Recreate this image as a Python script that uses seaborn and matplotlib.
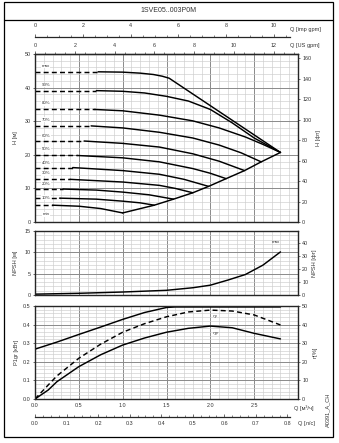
import matplotlib
matplotlib.use("Agg")
import matplotlib.pyplot as plt
import seaborn as sns
import pandas as pd
from matplotlib.ticker import MultipleLocator, FixedLocator
from matplotlib.patches import Rectangle
from matplotlib.lines import Line2D

sns.set_style("ticks")
plt.rcParams["font.family"] = ["Liberation Sans", "DejaVu Sans"]

# ---------------- data ----------------
title = "1SVE05..003P0M"
speed_labels = ["max", "90%", "80%", "70%", "60%", "50%", "40%", "30%", "20%", "10%", "min"]
shutoff_h = [44.7, 39.1, 33.5, 28.6, 24.1, 19.8, 16.2, 12.7, 9.8, 7.1, 5.0]
dash_end_q = [0.72, 0.70, 0.68, 0.64, 0.56, 0.48, 0.43, 0.40, 0.32, 0.28, 0.20]
label_h = [46.4, 40.8, 35.3, 30.4, 25.6, 21.6, 17.5, 14.5, 11.2, 7.2, 2.3]

max_q = [0.72, 1.0, 1.2, 1.35, 1.45, 1.53, 2.80]
max_h = [44.7, 44.6, 44.3, 43.9, 43.4, 42.8, 20.7]
p90_q = [0.70, 1.0, 1.25, 1.5, 1.75, 2.0, 2.25, 2.5, 2.80]
p90_h = [39.1, 38.9, 38.4, 37.4, 36.0, 33.5, 29.5, 25.0, 20.7]
p80_q = [0.68, 1.0, 1.42, 1.8, 2.1, 2.4, 2.6, 2.80]
p80_h = [33.5, 33.1, 31.8, 30.1, 28.0, 25.3, 23.1, 20.7]
p70_q = [0.64, 1.0, 1.42, 1.8, 2.1, 2.35, 2.58]
p70_h = [28.6, 28.0, 26.7, 25.0, 22.9, 20.6, 17.9]
p60_q = [0.56, 1.0, 1.42, 1.8, 2.1, 2.39]
p60_h = [24.1, 23.4, 22.3, 20.3, 18.1, 15.3]
p50_q = [0.48, 1.0, 1.42, 1.8, 2.0, 2.18]
p50_h = [19.8, 19.1, 17.9, 15.9, 14.5, 12.9]
p40_q = [0.43, 1.0, 1.42, 1.7, 1.98]
p40_h = [16.2, 15.3, 14.2, 12.7, 10.6]
p30_q = [0.40, 1.0, 1.42, 1.6, 1.80]
p30_h = [12.7, 11.9, 10.9, 10.0, 8.7]
p20_q = [0.32, 0.7, 1.0, 1.3, 1.58]
p20_h = [9.8, 9.5, 8.9, 8.1, 6.8]
p10_q = [0.28, 0.7, 1.0, 1.2, 1.36]
p10_h = [7.1, 6.8, 6.2, 5.7, 5.0]
min_q = [0.20, 0.5, 0.75, 1.0]
min_h = [5.0, 4.7, 4.0, 2.7]
env_q = [1.0, 1.36, 1.58, 1.80, 1.98, 2.18, 2.39, 2.58, 2.80]
env_h = [2.7, 5.0, 6.8, 8.7, 10.6, 12.9, 15.3, 17.9, 20.7]

npsh_q = [0, 0.5, 1.0, 1.5, 1.8, 2.0, 2.2, 2.4, 2.6, 2.8]
npsh_h = [0.2, 0.4, 0.7, 1.1, 1.7, 2.3, 3.5, 4.8, 7.0, 10.1]

p1_q = [0, 0.25, 0.5, 0.75, 1.0, 1.25, 1.5, 1.6, 2.8]
p1_kw = [0.268, 0.306, 0.347, 0.387, 0.428, 0.465, 0.492, 0.495, 0.495]
eta_q = [0, 0.15, 0.25, 0.5, 0.75, 1.0, 1.25, 1.5, 1.75, 2.0, 2.25, 2.5, 2.8]
eta_p = [0, 7.5, 12.4, 21.9, 29.5, 35.9, 40.5, 44.2, 46.8, 47.8, 47.3, 45.2, 39.8]
eta_gr = [0, 4.8, 9.3, 17.4, 23.8, 29.0, 32.8, 35.9, 38.0, 39.2, 38.3, 35.3, 32.3]

q_ticks = [0.0, 0.5, 1.0, 1.5, 2.0, 2.5]
us_ticks = [0, 2, 4, 6, 8, 10, 12]
imp_ticks = [0, 2, 4, 6, 8, 10]
ls_ticks = [0.0, 0.1, 0.2, 0.3, 0.4, 0.5, 0.6, 0.7, 0.8]

# ---------------- layout ----------------
W, H = 339, 443
fig = plt.figure(figsize=(W / 100, H / 100), dpi=100)
TXT = "#333333"
FS = 3.9
LFS = 4.1
SFS = 3.2


def fx(p):
    return p / W


def fy(p):
    return 1 - p / H


def add_ax(x0, x1, ytop, ybot):
    return fig.add_axes([fx(x0), fy(ybot), fx(x1) - fx(x0), fy(ytop) - fy(ybot)])


QMAX = 3.0
axH = add_ax(35, 298, 54, 222)
axN = add_ax(35, 298, 231, 295)
axP = add_ax(35, 298, 306, 399)


def style_grid(ax, ymaj, ymin):
    ax.set_xlim(0, QMAX)
    ax.xaxis.set_major_locator(MultipleLocator(0.5))
    ax.xaxis.set_minor_locator(MultipleLocator(0.1))
    ax.yaxis.set_major_locator(MultipleLocator(ymaj))
    ax.yaxis.set_minor_locator(MultipleLocator(ymin))
    ax.grid(which="major", color="#8a8a8a", lw=0.7)
    ax.grid(which="minor", color="#cccccc", lw=0.45)
    ax.set_axisbelow(True)
    for s in ax.spines.values():
        s.set_linewidth(0.9)
        s.set_color("black")
    ax.tick_params(which="major", length=1.5, width=0.5, labelsize=FS, colors=TXT, pad=1.5)
    ax.tick_params(which="minor", length=0)


style_grid(axH, 10, 2)
axH.set_ylim(0, 50)
axH.tick_params(axis="x", labelbottom=False, length=0)
style_grid(axN, 5, 1)
axN.set_ylim(0, 15)
axN.tick_params(axis="x", labelbottom=False, length=0)
style_grid(axP, 0.1, 0.02)
axP.set_ylim(0, 0.5)
axP.set_xticks(q_ticks)
axP.set_xticklabels([f"{v:.1f}" for v in q_ticks])
axP.set_yticks([0.0, 0.1, 0.2, 0.3, 0.4, 0.5])
axP.set_yticklabels(["0.0", "0.1", "0.2", "0.3", "0.4", "0.5"])
axP.tick_params(axis="x", length=0, pad=3)

# ---------------- H curves ----------------
LW = 1.05
curves = [(max_q, max_h), (p90_q, p90_h), (p80_q, p80_h), (p70_q, p70_h), (p60_q, p60_h),
          (p50_q, p50_h), (p40_q, p40_h), (p30_q, p30_h), (p20_q, p20_h), (p10_q, p10_h),
          (min_q, min_h)]
for (cq, ch), h0, qd in zip(curves, shutoff_h, dash_end_q):
    sns.lineplot(x=cq, y=ch, ax=axH, color="black", lw=LW, sort=False, estimator=None)
    sns.lineplot(x=[0, qd], y=[h0, h0], ax=axH, color="black", lw=LW,
                 linestyle=(0, (3.4, 2.2)), sort=False, estimator=None)
sns.lineplot(x=env_q, y=env_h, ax=axH, color="black", lw=LW, sort=False, estimator=None)
for lab, lh in zip(speed_labels, label_h):
    axH.text(0.125, lh, lab, fontsize=SFS, color=TXT, ha="center", va="center", zorder=5,
             bbox=dict(facecolor="white", edgecolor="none", pad=0.3))

axH2 = axH.twinx()
axH2.set_ylim(0, 50 * 3.28084)
axH2.set_yticks(range(0, 161, 20))
axH2.tick_params(labelsize=FS, colors=TXT, length=1.5, width=0.5, pad=1.5)
axH2.set_ylabel("H [фт]", fontsize=LFS, color=TXT, labelpad=3)
axH.set_ylabel("H [м]", fontsize=LFS, color=TXT, labelpad=5)

# US gpm top axis
sec = axH.secondary_xaxis("top", functions=(lambda q: q / 0.227125, lambda g: g * 0.227125))
sec.set_xticks(us_ticks)
sec.xaxis.set_minor_locator(MultipleLocator(0.5))
sec.tick_params(which="major", length=2.5, width=0.5, labelsize=FS, colors=TXT, pad=1.5, direction="out")
sec.tick_params(which="minor", length=1.5, width=0.4, direction="out")
sec.spines["top"].set_linewidth(0.9)
fig.text(fx(305), fy(46), "Q [US gpm]", fontsize=LFS, color=TXT, ha="center", va="center")

# imp gpm axis
axI = fig.add_axes([fx(35), fy(37), fx(290) - fx(35), 0.0001])
axI.set_xlim(0, (290 - 35) / (263 / QMAX) / 0.272765)
for s in ["left", "right", "bottom"]:
    axI.spines[s].set_visible(False)
axI.spines["top"].set_linewidth(0.9)
axI.set_yticks([])
axI.xaxis.tick_top()
axI.set_xticks(imp_ticks)
axI.xaxis.set_minor_locator(MultipleLocator(0.5))
axI.tick_params(which="major", length=2.5, width=0.5, labelsize=FS, colors=TXT, pad=4, direction="out")
axI.tick_params(which="minor", length=1.5, width=0.4, direction="out")
axI.patch.set_alpha(0)
fig.text(fx(305), fy(29), "Q [imp gpm]", fontsize=LFS, color=TXT, ha="center", va="center")

# ---------------- NPSH ----------------
sns.lineplot(x=npsh_q, y=npsh_h, ax=axN, color="black", lw=LW, sort=False, estimator=None)
axN.text(2.75, 12.4, "max", fontsize=SFS, color=TXT, ha="center", va="center")
axN.set_yticks([0, 5, 10, 15])
axN.set_ylabel("NPSH [м]", fontsize=LFS, color=TXT, labelpad=5)
axN2 = axN.twinx()
axN2.set_ylim(0, 15 * 3.28084)
axN2.set_yticks([0, 10, 20, 30, 40])
axN2.tick_params(labelsize=FS, colors=TXT, length=1.5, width=0.5, pad=1.5)
axN2.set_ylabel("NPSH [фт]", fontsize=LFS, color=TXT, labelpad=3)

# ---------------- Power / efficiency ----------------
sns.lineplot(x=p1_q, y=p1_kw, ax=axP, color="black", lw=LW, sort=False, estimator=None)
axP2 = axP.twinx()
axP2.set_ylim(0, 50)
axP2.set_yticks([0, 10, 20, 30, 40, 50])
axP2.tick_params(labelsize=FS, colors=TXT, length=1.5, width=0.5, pad=1.5)
sns.lineplot(x=eta_q, y=eta_p, ax=axP2, color="black", lw=LW, linestyle=(0, (3.4, 2.2)),
             sort=False, estimator=None)
sns.lineplot(x=eta_q, y=eta_gr, ax=axP2, color="black", lw=LW, sort=False, estimator=None)
axP2.set_xlim(0, QMAX)
axP2.text(2.06, 44.3, r"$\eta_p$", fontsize=SFS, color=TXT, ha="center", va="center")
axP2.text(2.07, 35.0, r"$\eta_{gr}$", fontsize=SFS, color=TXT, ha="center", va="center")
axP2.set_ylabel("η[%]", fontsize=LFS, color=TXT, labelpad=3)
axP.set_ylabel("P1gr [кВт]", fontsize=LFS, color=TXT, labelpad=3)
fig.text(fx(304), fy(408), "Q [м³/ч]", fontsize=LFS, color=TXT, ha="center", va="center")

# l/s axis
axL = fig.add_axes([fx(35), fy(417), fx(290) - fx(35), 0.0001])
axL.set_xlim(0, (290 - 35) / (263 / QMAX) / 3.6)
for s in ["left", "right", "top"]:
    axL.spines[s].set_visible(False)
axL.spines["bottom"].set_linewidth(0.9)
axL.set_yticks([])
axL.set_xticks(ls_ticks)
axL.set_xticklabels([f"{v:.1f}" for v in ls_ticks])
axL.xaxis.set_minor_locator(MultipleLocator(0.025))
axL.tick_params(which="major", length=2.0, width=0.5, labelsize=FS, colors=TXT, pad=3, direction="in")
axL.tick_params(which="minor", length=1.2, width=0.4, direction="in")
axL.patch.set_alpha(0)
fig.text(fx(306), fy(423), "Q [л/с]", fontsize=LFS, color=TXT, ha="center", va="center")

for a in (axH, axN, axP, axH2, axN2, axP2):
    a.set_xlabel("")

# frame and title
fig.add_artist(Rectangle((fx(4), fy(437)), fx(333) - fx(4), fy(2) - fy(437), fill=False,
                         edgecolor="black", lw=0.9, transform=fig.transFigure))
fig.add_artist(Line2D([fx(4), fx(333)], [fy(20), fy(20)], color="black", lw=0.9,
                      transform=fig.transFigure))
fig.text(fx(168.5), fy(11), title, fontsize=5.0, color=TXT, ha="center", va="center")
fig.text(fx(328), fy(410), "A0391_A_CH", fontsize=LFS, color=TXT, ha="center", va="center",
         rotation=90)

fig.savefig("out.png", dpi=100)
